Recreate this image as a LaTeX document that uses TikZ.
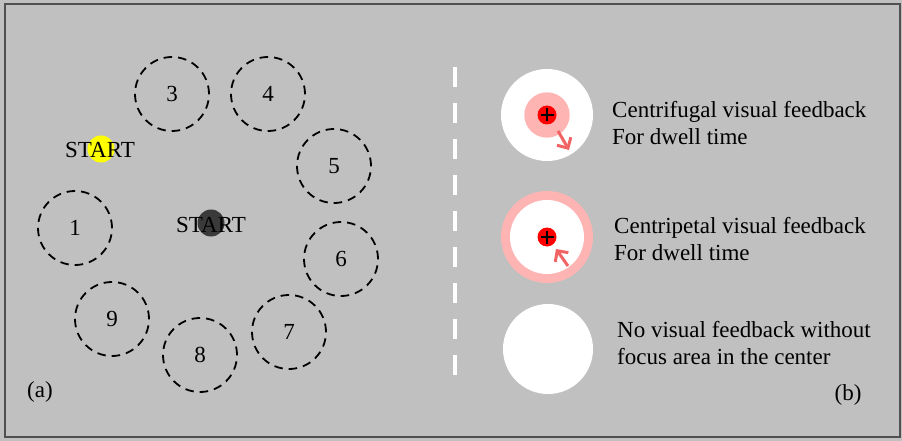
\documentclass[tikz,border=0pt]{standalone}
\usepackage{fontspec}
\setmainfont{Liberation Serif}
\usetikzlibrary{arrows.meta}
\definecolor{bg}{HTML}{C0C0C0}
\definecolor{frame}{HTML}{505050}
\definecolor{pinkring}{HTML}{FFB4B4}
\definecolor{dotred}{HTML}{FF0000}
\definecolor{arrowred}{HTML}{F26464}
\definecolor{darkdot}{HTML}{3A3A3A}
\definecolor{yel}{HTML}{FFFF00}
\begin{document}
\begin{tikzpicture}[x=1pt,y=-1pt,
  every node/.style={font=\fontsize{23}{27}\selectfont, inner sep=0pt},
  target/.style={circle, draw=black, line width=1.8pt, dash pattern=on 8.5pt off 6pt, minimum size=74pt},
  fb/.style={line width=3pt, draw=arrowred, -{Straight Barb[length=8pt,width=16pt,line width=3pt]}},
  plusmark/.style={line width=1.6pt, draw=black}
]
\useasboundingbox (0,0) rectangle (902,441);
\fill[bg] (0,0) rectangle (902,441);
\draw[frame, line width=2.2pt] (5,4) rectangle (900,437);

% left panel targets
\node[target] (c3) at (172,94) {3};
\node[target] (c4) at (268,94) {4};
\node[target] (c5) at (334,166) {5};
\node[target] (c1) at (75,228) {1};
\node[target] (c6) at (341,259) {6};
\node[target] (c9) at (112,319) {9};
\node[target] (c7) at (289,332) {7};
\node[target] (c8) at (200,355) {8};

% start markers
\fill[yel] (101,149) circle (13.5);
\node (s1) at (100,150) {START};
\fill[darkdot] (211,223) circle (13.5);
\node (s2) at (211,225) {START};

\node (la) at (40,392) {(a)};
\node (lb) at (848,395) {(b)};

% separator
\draw[white, line width=4.5pt, dash pattern=on 20pt off 16pt] (455,67) -- (455,380);

% right panel: centrifugal
\fill[white] (547,115) circle (46);
\fill[pinkring] (547,115) circle (22.7);
\fill[dotred] (547,115) circle (9.5);
\coordinate (p1) at (547,115);
\draw[plusmark] ([xshift=-6.5pt]p1) -- ([xshift=6.5pt]p1);
\draw[plusmark] ([yshift=-6.5pt]p1) -- ([yshift=6.5pt]p1);
\coordinate (a1s) at (558,131);
\coordinate (a1e) at (569,150);
\draw[fb] (a1s) -- (a1e);

% centripetal
\fill[pinkring] (547,237) circle (46);
\fill[white] (547,237) circle (37);
\fill[dotred] (547,237) circle (9.5);
\coordinate (p2) at (547,237);
\draw[plusmark] ([xshift=-6.5pt]p2) -- ([xshift=6.5pt]p2);
\draw[plusmark] ([yshift=-6.5pt]p2) -- ([yshift=6.5pt]p2);
\coordinate (a2s) at (568,266);
\coordinate (a2e) at (556,249);
\draw[fb] (a2s) -- (a2e);

% no feedback
\fill[white] (548,349) circle (45);

% texts
\node[anchor=west, align=left] (t1) at (612,123) {Centrifugal visual feedback\\For dwell time};
\node[anchor=west, align=left] (t2) at (614,239) {Centripetal visual feedback\\For dwell time};
\node[anchor=west, align=left] (t3) at (617,343) {No visual feedback without\\focus area in the center};
\end{tikzpicture}
\end{document}
